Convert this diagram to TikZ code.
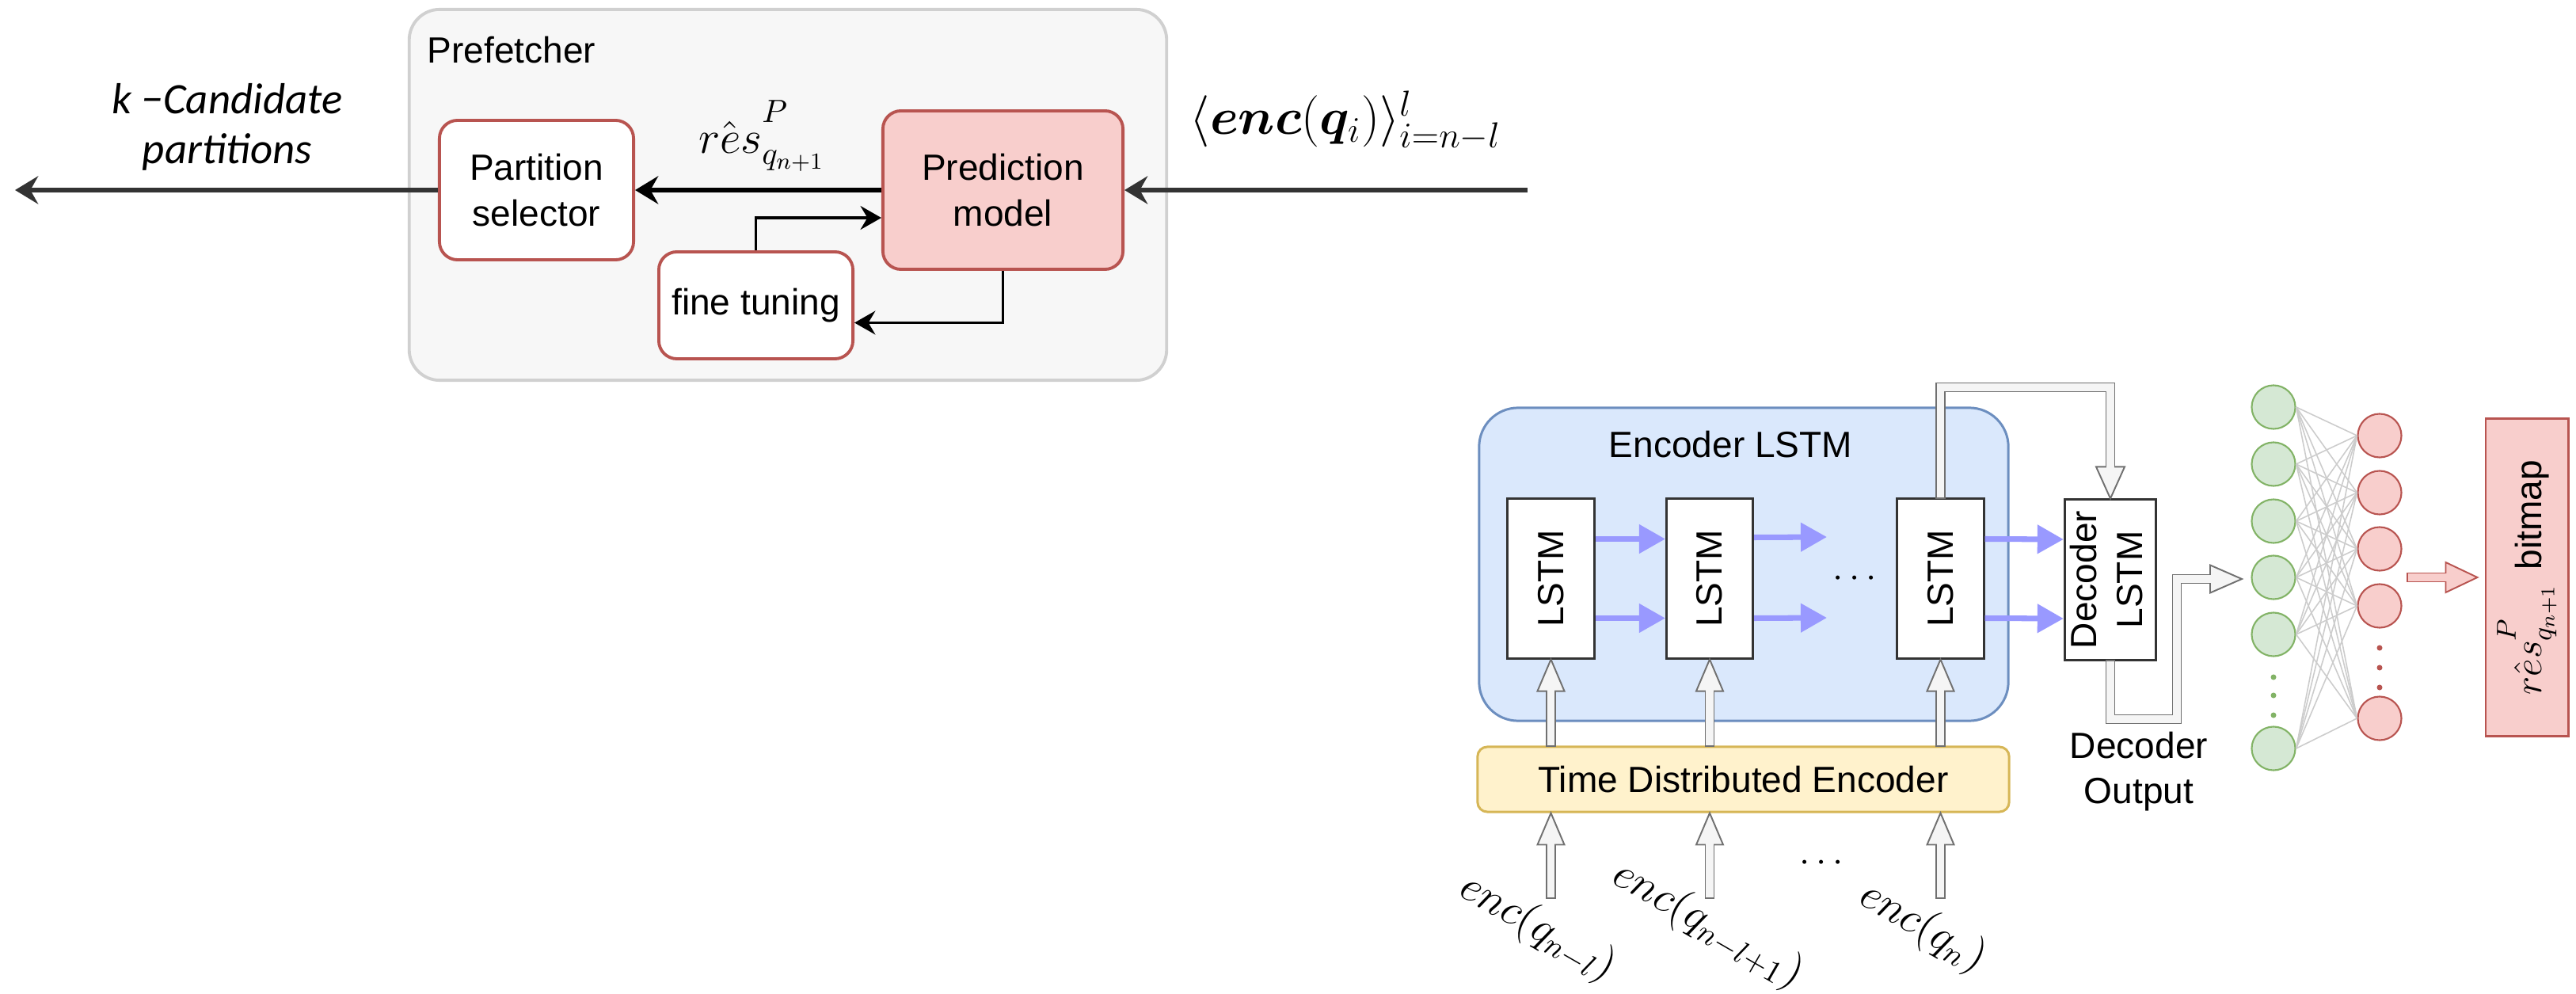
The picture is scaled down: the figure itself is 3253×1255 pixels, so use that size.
\RequirePackage{fix-cm}
\documentclass[tikz,border=0pt]{standalone}
\usepackage{bm}
\usepackage{fontspec}
\setmainfont{Liberation Sans}
\newfontfamily\calibfont{Carlito}
\usetikzlibrary{arrows.meta,calc}
\definecolor{pfFill}{HTML}{F7F7F7}
\definecolor{pfStroke}{HTML}{D0D0D0}
\definecolor{redS}{HTML}{B85450}
\definecolor{redF}{HTML}{F8CECC}
\definecolor{blueF}{HTML}{DAE8FC}
\definecolor{blueS}{HTML}{6C8EBF}
\definecolor{yelF}{HTML}{FFF2CC}
\definecolor{yelS}{HTML}{D6B656}
\definecolor{grnF}{HTML}{D5E8D4}
\definecolor{grnS}{HTML}{82B366}
\definecolor{arrB}{HTML}{9999FF}
\definecolor{flexS}{HTML}{707070}
\definecolor{flexF}{HTML}{F5F5F5}
\definecolor{darkL}{HTML}{333333}
\definecolor{netL}{HTML}{CCCCCC}
\newcommand{\resP}[1]{\hat{res}^{\raisebox{#1}{$\scriptstyle P$}}_{q_{n+1}}}
\begin{document}
\begin{tikzpicture}[x=0.01cm,y=-0.01cm,
  txt/.style={font=\fontsize{13.1pt}{16.4pt}\selectfont},
  redbox/.style={draw=redS, line width=1.1pt, rounded corners=6.5pt, align=center, inner sep=0pt, txt},
  lstmbox/.style={draw=darkL, fill=white, line width=0.85pt, minimum width=1.09cm, minimum height=2.01cm, inner sep=0pt, txt},
  thickarr/.style={line width=1.5pt, -{Stealth[length=8.3pt,width=10pt,inset=2.8pt]}},
  thinarr/.style={line width=1pt, -{Stealth[length=7.5pt,width=8.5pt,inset=2.5pt]}},
  bluearr/.style={draw=arrB, line width=2pt, -{Triangle[length=9.4pt,width=10pt]}},
  flexo/.style={draw=flexS, line width=3.6pt, line join=miter, shorten <=-0.5pt},
  flexi/.style={draw=flexF, line width=2.6pt, line join=miter},
  flexh/.style={draw=flexS, fill=flexF, line width=0.55pt, line join=miter},
  redo/.style={flexo, draw=redS},
  redi/.style={flexi, draw=redF},
  redh/.style={flexh, draw=redS, fill=redF},
  gcirc/.style={circle, draw=grnS, fill=grnF, line width=0.6pt, minimum size=0.55cm, inner sep=0pt},
  rcirc/.style={circle, draw=redS, fill=redF, line width=0.6pt, minimum size=0.55cm, inner sep=0pt},
  netline/.style={draw=netL, line width=0.45pt},
  enclab/.style={rotate=-30, inner sep=0pt, font=\fontsize{16pt}{19pt}\selectfont}
]
\useasboundingbox (0,0) rectangle (3253,1255);

% ---------- Prefetcher ----------
\node[draw=pfStroke, fill=pfFill, line width=1.1pt, rounded corners=11pt, minimum width=9.56cm, minimum height=4.68cm, inner sep=0pt] (pref) at (995,246) {};
\node[txt, anchor=base west, inner sep=0pt] (preflbl) at (539,80) {Prefetcher};

\node[redbox, fill=white, minimum width=2.45cm, minimum height=1.76cm] (ps) at (677.5,240) {Partition\\selector};
\node[redbox, fill=redF, minimum width=3.03cm, minimum height=2.0cm] (pm) at (1266.5,240) {Prediction\\model};
\node[redbox, fill=white, minimum width=2.45cm, minimum height=1.35cm] (ft) at (954.5,385.5) {fine tuning};

\coordinate (kout) at (19,240);
\coordinate (qin) at (1929,240);

\draw[thickarr, draw=darkL] (ps.west) -- (kout);
\draw[thickarr, draw=darkL] (qin) -- (pm.east);
\draw[thickarr] (pm.west) -- (ps.east);
\draw[thinarr] (ft.north) |- ($(pm.west)+(0,35)$);
\draw[thinarr] (pm.south) |- ($(ft.east)+(0,22)$);

\node[inner sep=0pt, font=\fontsize{16.5pt}{20pt}\selectfont] (reslbl) at (962,172) {$\resP{4pt}$};
\node[anchor=base west, inner sep=0pt, font=\fontsize{18.5pt}{22pt}\selectfont] (enclbl) at (1502,170) {$\langle \bm{enc}(\bm{q}_i)\rangle^{l}_{i=n-l}$};
\node[align=center, inner sep=0pt, font=\calibfont\itshape\fontsize{15.6pt}{17.9pt}\selectfont] (klbl) at (287,160) {k −Candidate\\partitions};

% ---------- Encoder ----------
\node[draw=blueS, fill=blueF, line width=0.85pt, rounded corners=14pt, minimum width=6.68cm, minimum height=3.95cm, inner sep=0pt] (encbox) at (2202,712.5) {};
\node[txt, anchor=base, inner sep=0pt] (enclstm) at (2185.5,578) {Encoder LSTM};

\node[lstmbox] (l1) at (1958.5,730.5) {\rotatebox{90}{LSTM}};
\node[lstmbox] (l2) at (2159,730.5) {\rotatebox{90}{LSTM}};
\node[lstmbox] (l3) at (2450.5,730.5) {\rotatebox{90}{LSTM}};
\node[lstmbox, minimum width=1.12cm, minimum height=2.02cm] (dec) at (2665,732) {\rotatebox{90}{\begin{tabular}{@{}c@{}}Decoder\\LSTM\end{tabular}}};

\coordinate (l2oa) at (2307,678);
\coordinate (l2ob) at (2307,780);
\draw[bluearr] ($(l1.east)+(0,-50)$) -- ($(l2.west)+(0,-50)$);
\draw[bluearr] ($(l1.east)+(0,50)$) -- ($(l2.west)+(0,50)$);
\draw[bluearr] ($(l2.east)+(0,-52)$) -- (l2oa);
\draw[bluearr] ($(l2.east)+(0,50)$) -- (l2ob);
\draw[bluearr] ($(l3.east)+(0,-50)$) -- ($(dec.west)+(0,-51)$);
\draw[bluearr] ($(l3.east)+(0,50)$) -- ($(dec.west)+(0,49)$);

\node[inner sep=0pt, font=\fontsize{13.5pt}{16pt}\selectfont] (dots1) at (2342,731) {$\cdots$};

\node[draw=yelS, fill=yelF, line width=0.85pt, rounded corners=3.5pt, minimum width=6.71cm, minimum height=0.82cm, inner sep=0pt, txt] (tde) at (2201.5,984) {Time Distributed Encoder};

% flex arrows TDE -> LSTM
\foreach \n in {l1,l2,l3}{
  \draw[flexo] (\n.south |- tde.north) -- ($(\n.south)+(0,40)$);
  \draw[flexh] (\n.south) -- ($(\n.south)+(-17,40)$) -- ($(\n.south)+(17,40)$) -- cycle;
  \draw[flexi] (\n.south |- tde.north) -- ($(\n.south)+(0,38)$);
}

% inputs -> TDE
\coordinate (in1) at (1958.5,1133);
\coordinate (in2) at (2159,1133);
\coordinate (in3) at (2450.5,1133);
\foreach \n in {in1,in2,in3}{
  \draw[flexo] (\n) -- ($(\n |- tde.south)+(0,40)$);
  \draw[flexh] (\n |- tde.south) -- ($(\n |- tde.south)+(-17,40)$) -- ($(\n |- tde.south)+(17,40)$) -- cycle;
  \draw[flexi] (\n) -- ($(\n |- tde.south)+(0,38)$);
}
\node[inner sep=0pt, font=\fontsize{13.5pt}{16pt}\selectfont] (dots2) at (2300,1090) {$\cdots$};

\node[enclab] (e1lbl) at (1942,1172) {$enc(q_{n-l})$};
\node[enclab] (e2lbl) at (2157,1168) {$enc(q_{n-l+1})$};
\node[enclab] (e3lbl) at (2428,1171) {$enc(q_n)$};

% LSTM3 -> decoder
\coordinate (turnA) at (2450.5,489);
\draw[flexo] (l3.north) -- (turnA) -| ($(dec.north)+(0,-40)$);
\draw[flexh] (dec.north) -- ($(dec.north)+(-18,-40)$) -- ($(dec.north)+(18,-40)$) -- cycle;
\draw[flexi] (l3.north) -- (turnA) -| ($(dec.north)+(0,-38)$);

% decoder output
\coordinate (dectip) at (2831,731);
\coordinate (turnB) at (2749,908);
\draw[flexo] (dec.south) |- (turnB) |- ($(dectip)+(-40,0)$);
\draw[flexh] (dectip) -- ($(dectip)+(-40,-17.5)$) -- ($(dectip)+(-40,17.5)$) -- cycle;
\draw[flexi] (dec.south) |- (turnB) |- ($(dectip)+(-38,0)$);
\node[txt, align=center, inner sep=0pt] (declbl) at (2701,974) {Decoder\\Output};

% ---------- dense layer ----------
\foreach \i/\y in {1/514,2/586,3/658,4/729,5/801,6/945} \node[gcirc] (g\i) at (2871,\y) {};
\foreach \j/\y in {1/550,2/622,3/693,4/765,5/907} \node[rcirc] (r\j) at (3005,\y) {};
\foreach \i in {1,...,6}{\foreach \j in {1,...,5}{\draw[netline] (g\i.east) -- (r\j.west);}}
\foreach \y in {855,878,903} \fill[grnS] (2871,\y) circle (1pt);
\foreach \y in {818,843,868} \fill[redS] (3005,\y) circle (1pt);

% output
\node[draw=redS, fill=redF, line width=0.85pt, minimum width=1.04cm, minimum height=4.0cm, inner sep=0pt, txt] (outb) at (3191,729) {\rotatebox{90}{\fontsize{14pt}{16pt}\selectfont$\resP{3pt}$\hspace{5pt}\fontsize{13.1pt}{16pt}\selectfont bitmap}};
\coordinate (rtail) at (3041,729);
\draw[redo] (rtail) -- ($(outb.west)+(-49,0)$);
\draw[redh] ($(outb.west)+(-9,0)$) -- ($(outb.west)+(-49,-19)$) -- ($(outb.west)+(-49,19)$) -- cycle;
\draw[redi] (rtail) -- ($(outb.west)+(-47,0)$);
\end{tikzpicture}
\end{document}
